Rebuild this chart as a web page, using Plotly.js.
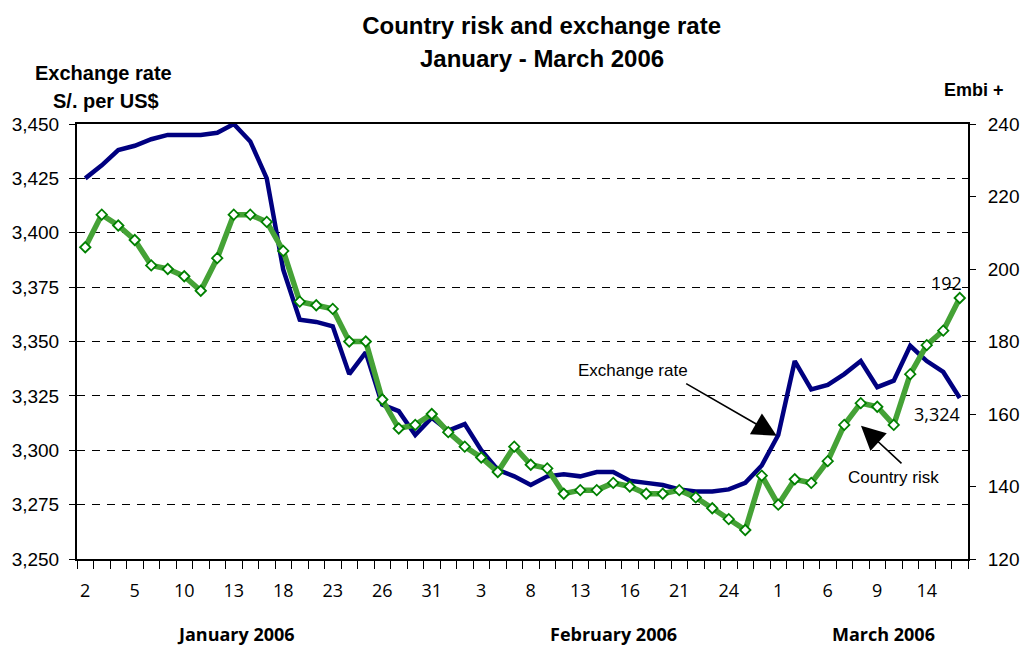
<!DOCTYPE html>
<html>
<head>
<meta charset="utf-8">
<script src="https://cdn.plot.ly/plotly-3.0.1.min.js"></script>
<style>html,body{margin:0;padding:0;background:#fff;}#chart{width:1020px;height:648px;}</style>
</head>
<body>
<div id="chart"></div>
<script>
// Business days shown on the category axis
const janDays = [2,3,4,5,6,9,10,11,12,13,16,17,18,19,20,23,24,25,26,27,30,31];
const febDays = [1,2,3,6,7,8,9,10,13,14,15,16,17,20,21,22,23,24,27,28];
const marDays = [1,2,3,6,7,8,9,10,13,14,15,16];
const monthNames = ['January 2006','February 2006','March 2006'];

// Exchange rate (S/. per US$), left axis
const exchangeRate = [3425,3431,3438,3440,3443,3445,3445,3445,3446,3450,
  3442,3425,3383,3360,3359,3357,3335,3345,3321,3318,
  3307,3315,3309,3312,3300,3291,3288,3284,3288,3289,
  3288,3290,3290,3286,3285,3284,3282,3281,3281,3282,
  3285,3293,3307,3341,3328,3330,3335,3341,3329,3332,
  3348,3341,3336,3324];

// Country risk (Embi +), right axis
const countryRisk = [206,215,212,208,201,200,198,194,203,215,
  215,213,205,191,190,189,180,180,164,156,
  157,160,155,151,148,144,151,146,145,138,
  139,139,141,140,138,138,139,137,134,131,
  128,143,135,142,141,147,157,163,162,157,
  171,179,183,192];

const categories = [].concat(
  janDays.map(d => 'Jan ' + d),
  febDays.map(d => 'Feb ' + d),
  marDays.map(d => 'Mar ' + d)
);
const dayLabels = [].concat(janDays, febDays, marDays);
const tickText = dayLabels.map((d, i) => (i % 3 === 0 ? String(d) : ''));

const narrow = '"Open Sans", "Liberation Sans", Arial, sans-serif';
const arial = '"Liberation Sans", Arial, sans-serif';

const traces = [
  {
    x: categories, y: countryRisk, yaxis: 'y2', type: 'scatter', mode: 'lines+markers',
    name: 'Country risk',
    line: {color: '#45A236', width: 5.5},
    marker: {symbol: 'diamond', size: 8, color: '#ffffff', line: {color: '#008000', width: 1.8}},
    hoverinfo: 'skip'
  },
  {
    x: categories, y: exchangeRate, yaxis: 'y', type: 'scatter', mode: 'lines',
    name: 'Exchange rate',
    line: {color: '#000080', width: 4.5},
    hoverinfo: 'skip'
  }
];

const n = categories.length;
const layout = {
  width: 1020, height: 648,
  paper_bgcolor: '#ffffff', plot_bgcolor: '#ffffff',
  showlegend: false,
  margin: {l: 77, r: 52, t: 124, b: 89},
  title: {
    text: '<b>Country risk and exchange rate</b>',
    font: {family: arial, size: 24, color: '#000'},
    x: 0.531, xanchor: 'center', xref: 'container',
    y: 0.961, yanchor: 'middle', yref: 'container'
  },
  xaxis: {
    type: 'category', range: [-0.5, n - 0.5],
    tickmode: 'array', tickvals: categories, ticktext: tickText, tickangle: 0,
    tickson: 'boundaries', ticks: 'outside', ticklen: 8, tickwidth: 1, tickcolor: '#000',
    ticklabelstandoff: 14,
    tickfont: {family: narrow, size: 18, color: '#000', stretch: 'condensed'},
    showline: true, linewidth: 2, linecolor: '#000', mirror: true,
    showgrid: false, zeroline: false, fixedrange: true
  },
  yaxis: {
    range: [3250, 3450], dtick: 25, tick0: 3250, tickformat: ',d',
    ticks: 'outside', ticklen: 6, tickcolor: '#000', ticklabelstandoff: 6,
    tickfont: {family: arial, size: 19, color: '#000'},
    showline: true, linewidth: 2, linecolor: '#000',
    showgrid: true, gridcolor: '#000', gridwidth: 1, griddash: '8px,7px',
    zeroline: false, fixedrange: true
  },
  yaxis2: {
    overlaying: 'y', side: 'right',
    range: [120, 240], dtick: 20, tick0: 120,
    ticks: 'outside', ticklen: 6, tickcolor: '#000', ticklabelstandoff: 8,
    tickfont: {family: arial, size: 19, color: '#000'},
    showline: true, linewidth: 2, linecolor: '#000',
    showgrid: false, zeroline: false, fixedrange: true
  },
  annotations: [
    {text: '<b>January - March 2006</b>', xref: 'paper', yref: 'paper', x: 0.522, y: 1.1517,
     showarrow: false, font: {family: arial, size: 24, color: '#000'}, xanchor: 'center', yanchor: 'middle'},
    {text: '<b>Exchange rate</b>', xref: 'paper', yref: 'paper', x: 0.0303, y: 1.1183,
     showarrow: false, font: {family: arial, size: 20, color: '#000'}, xanchor: 'center', yanchor: 'middle'},
    {text: '<b>S/. per US$</b>', xref: 'paper', yref: 'paper', x: 0.0331, y: 1.0528,
     showarrow: false, font: {family: arial, size: 20, color: '#000'}, xanchor: 'center', yanchor: 'middle'},
    {text: '<b>Embi +</b>', xref: 'paper', yref: 'paper', x: 1.0067, y: 1.0774,
     showarrow: false, font: {family: arial, size: 18, color: '#000'}, xanchor: 'center', yanchor: 'middle'},
    // month labels
    {text: '<b>' + monthNames[0] + '</b>', xref: 'paper', yref: 'paper', x: 0.1781, y: (559.3 - 634) / 435.3,
     showarrow: false, font: {family: narrow, size: 18, color: '#000', stretch: 'condensed'}, xanchor: 'center', yanchor: 'middle'},
    {text: '<b>' + monthNames[1] + '</b>', xref: 'paper', yref: 'paper', x: 0.6016, y: (559.3 - 634) / 435.3,
     showarrow: false, font: {family: narrow, size: 18, color: '#000', stretch: 'condensed'}, xanchor: 'center', yanchor: 'middle'},
    {text: '<b>' + monthNames[2] + '</b>', xref: 'paper', yref: 'paper', x: 0.9057, y: (559.3 - 634) / 435.3,
     showarrow: false, font: {family: narrow, size: 18, color: '#000', stretch: 'condensed'}, xanchor: 'center', yanchor: 'middle'},
    // series callouts
    {text: 'Exchange rate', xref: 'paper', yref: 'paper', x: (632.5 - 77) / 891, y: (559.3 - 370.7) / 435.3,
     showarrow: false, font: {family: arial, size: 17, color: '#000'}, xanchor: 'center', yanchor: 'middle'},
    {text: '', xref: 'paper', yref: 'paper', x: (776.7 - 77) / 891, y: (559.3 - 436) / 435.3,
     showarrow: true, ax: -92, ay: -53, arrowhead: 2, arrowsize: 3, arrowwidth: 1.6, arrowcolor: '#000', standoff: 0},
    {text: 'Country risk', xref: 'paper', yref: 'paper', x: (893.3 - 77) / 891, y: (559.3 - 477.3) / 435.3,
     showarrow: false, font: {family: arial, size: 17, color: '#000'}, xanchor: 'center', yanchor: 'middle'},
    {text: '', xref: 'paper', yref: 'paper', x: (861 - 77) / 891, y: (559.3 - 426) / 435.3,
     showarrow: true, ax: 42, ay: 39, arrowhead: 2, arrowsize: 3, arrowwidth: 1.6, arrowcolor: '#000', standoff: 0},
    // end-value labels
    {text: exchangeRate[n - 1].toLocaleString('en-US'), xref: 'x', yref: 'y', x: categories[n - 1], y: exchangeRate[n - 1],
     showarrow: false, xanchor: 'right', yanchor: 'middle', xshift: 2, yshift: -16,
     font: {family: narrow, size: 18, color: '#000', stretch: 'condensed'}},
    {text: String(countryRisk[n - 1]), xref: 'x', yref: 'y2', x: categories[n - 1], y: countryRisk[n - 1],
     showarrow: false, xanchor: 'center', yanchor: 'middle', xshift: -13, yshift: 15,
     font: {family: narrow, size: 18, color: '#000', stretch: 'condensed'}}
  ]
};

Plotly.newPlot('chart', traces, layout, {displayModeBar: false, staticPlot: true});
</script>
</body>
</html>
